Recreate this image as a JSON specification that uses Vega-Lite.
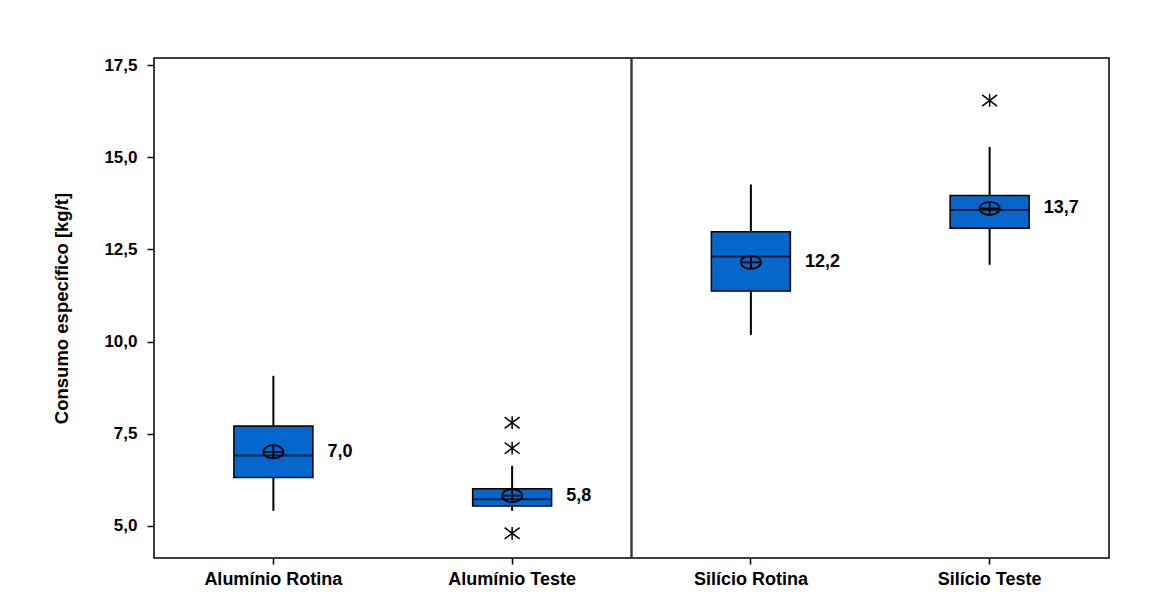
{
  "$schema": "https://vega.github.io/schema/vega-lite/v6.json",
  "autosize": "none",
  "padding": {"left": 154, "top": 58, "right": 41, "bottom": 49},
  "width": 955,
  "height": 500,
  "background": "white",
  "datasets": {
    "boxes": [
      {"grupo": "Alumínio Rotina", "lower": 5.41, "q1": 6.31, "median": 6.91, "q3": 7.71, "upper": 9.07, "mean": 7.01, "rotulo": "7,0"},
      {"grupo": "Alumínio Teste", "lower": 5.41, "q1": 5.54, "median": 5.72, "q3": 6.01, "upper": 6.63, "mean": 5.82, "rotulo": "5,8"},
      {"grupo": "Silício Rotina", "lower": 10.18, "q1": 11.37, "median": 12.31, "q3": 12.98, "upper": 14.26, "mean": 12.15, "rotulo": "12,2"},
      {"grupo": "Silício Teste", "lower": 12.08, "q1": 13.07, "median": 13.57, "q3": 13.96, "upper": 15.28, "mean": 13.61, "rotulo": "13,7"}
    ],
    "outliers": [
      {"grupo": "Alumínio Teste", "valor": 7.80},
      {"grupo": "Alumínio Teste", "valor": 7.11},
      {"grupo": "Alumínio Teste", "valor": 4.80},
      {"grupo": "Silício Teste", "valor": 16.54}
    ]
  },
  "encoding": {
    "x": {
      "field": "grupo",
      "type": "nominal",
      "sort": null,
      "scale": {"domain": ["Alumínio Rotina", "Alumínio Teste", "Silício Rotina", "Silício Teste"], "paddingInner": 0, "paddingOuter": 0},
      "axis": {"title": null, "labelAngle": 0, "tickSize": 6, "tickWidth": 1.5, "tickColor": "#000", "labelPadding": 6, "domain": false, "labelFont": "Liberation Sans", "labelFontWeight": "bold", "labelFontSize": 18, "labelColor": "#000"}
    }
  },
  "layer": [
    {
      "data": {"name": "boxes"},
      "mark": {"type": "rule", "color": "#000", "strokeWidth": 2},
      "encoding": {
        "y": {
          "field": "lower",
          "type": "quantitative",
          "scale": {"domain": [4.13, 17.69], "nice": false, "zero": false},
          "axis": {
            "title": "Consumo específico [kg/t]",
            "values": [5, 7.5, 10, 12.5, 15, 17.5],
            "labelExpr": "replace(format(datum.value, '.1f'), '.', ',')",
            "grid": false,
            "domain": false,
            "tickSize": 7,
            "tickWidth": 1.5,
            "tickColor": "#000",
            "labelPadding": 10,
            "labelFont": "Liberation Sans",
            "labelFontWeight": "bold",
            "labelFontSize": 17,
            "labelColor": "#000",
            "titleFont": "Liberation Sans",
            "titleFontWeight": "bold",
            "titleFontSize": 18.5,
            "titleColor": "#000",
            "titlePadding": 32
          }
        },
        "y2": {"field": "upper"}
      }
    },
    {
      "data": {"name": "boxes"},
      "mark": {"type": "rule", "color": "#333", "strokeWidth": 1.5},
      "encoding": {"x": {"datum": "Silício Rotina", "bandPosition": 0}}
    },
    {
      "data": {"name": "boxes"},
      "mark": {"type": "bar", "width": 79, "fill": "#0566cc", "stroke": "#000", "strokeWidth": 1.5},
      "encoding": {
        "y": {"field": "q1", "type": "quantitative"},
        "y2": {"field": "q3"}
      }
    },
    {
      "data": {"name": "boxes"},
      "mark": {"type": "tick", "size": 79, "thickness": 2, "color": "#000"},
      "encoding": {"y": {"field": "median", "type": "quantitative"}}
    },
    {
      "data": {"name": "boxes"},
      "mark": {"type": "point", "shape": "M-1,0A1,0.66 0 1,0 1,0A1,0.66 0 1,0 -1,0M-1,0L1,0M0,-0.66L0,0.66", "size": 400, "filled": false, "stroke": "#000", "strokeWidth": 1.8, "opacity": 1},
      "encoding": {"y": {"field": "mean", "type": "quantitative"}}
    },
    {
      "data": {"name": "boxes"},
      "mark": {"type": "text", "align": "left", "baseline": "middle", "dx": 54, "font": "Liberation Sans", "fontWeight": "bold", "fontSize": 18, "color": "#000"},
      "encoding": {
        "y": {"field": "mean", "type": "quantitative"},
        "text": {"field": "rotulo"}
      }
    },
    {
      "data": {"name": "outliers"},
      "mark": {"type": "point", "shape": "M-1,-0.75L1,0.75M-1,0.75L1,-0.75M0,-0.85L0,0.85", "size": 225, "filled": false, "stroke": "#000", "strokeWidth": 1.5, "opacity": 1},
      "encoding": {"y": {"field": "valor", "type": "quantitative"}}
    }
  ],
  "config": {
    "view": {"stroke": "#000", "strokeWidth": 1.5}
  }
}
